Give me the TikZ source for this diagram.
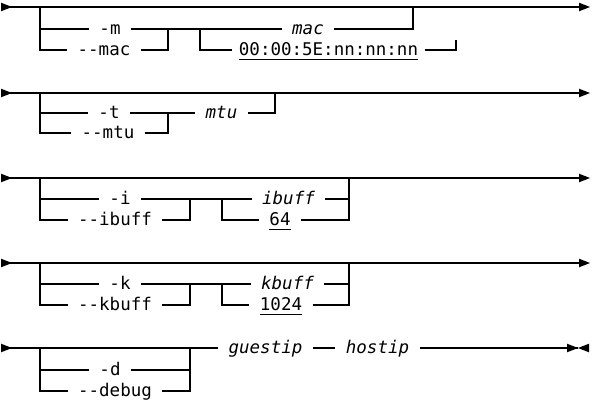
\documentclass[tikz,border=0pt]{standalone}
\usepackage{fontspec}
\setmonofont{DejaVu Sans Mono}
\newcommand\myul[1]{\setbox0\hbox{#1}\rlap{\rule[-4.5pt]{\wd0}{1pt}}\box0}
\begin{document}
\begin{tikzpicture}[x=1pt,y=-1pt,line width=1.1pt,
  lbl/.style={font=\ttfamily\fontsize{17.5}{20}\selectfont, inner xsep=10pt, inner ysep=0pt, text height=11pt, text depth=0pt},
  var/.style={lbl, font=\ttfamily\itshape\fontsize{17.5}{20}\selectfont},
  tri/.pic={\fill (0,-4.3) -- (11,0) -- (0,4.3) -- cycle;},
  ltri/.pic={\fill (11,-4.3) -- (0,0) -- (11,4.3) -- cycle;}]
\useasboundingbox (0,0) rectangle (594,404);

% ---------- section 1 ----------
\coordinate (s1) at (1,7);
\coordinate (e1) at (579,7);
\pic at (s1) {tri};
\pic at (e1) {tri};
\draw (s1) -- (e1);
\node[lbl] (m) at (110,29) {-m};
\node[lbl] (mac) at (104,50) {-{}-mac};
\node[var] (macv) at (308,29) {mac};
\node[lbl, inner xsep=6pt] (macd) at (328.5,50) {\myul{00:00:5E:nn:nn:nn}};
\coordinate (a1) at (40,7);
\draw (a1) |- (mac.west);
\draw (a1 |- m) -- (m.west);
\draw (m.east) -- (macv.west);
\coordinate (b1) at (168,29);
\draw (mac.east) -| (b1);
\coordinate (c1) at (200,29);
\draw (c1) |- (macd.west);
\coordinate (d1) at (413,7);
\draw (macv.east) -| (d1);
\coordinate (f1) at (456,40);
\draw (macd.east) -| (f1);

% ---------- section 2 ----------
\coordinate (s2) at (1,93);
\coordinate (e2) at (579,93);
\pic at (s2) {tri};
\pic at (e2) {tri};
\draw (s2) -- (e2);
\node[lbl] (t) at (109,113) {-t};
\node[lbl] (mtu) at (108,133) {-{}-mtu};
\node[var] (mtuv) at (221.5,113) {mtu};
\coordinate (a2) at (40,93);
\draw (a2) |- (mtu.west);
\draw (a2 |- t) -- (t.west);
\draw (t.east) -- (mtuv.west);
\coordinate (b2) at (168,113);
\draw (mtu.east) -| (b2);
\coordinate (d2) at (275,93);
\draw (mtuv.east) -| (d2);

% ---------- section 3 ----------
\coordinate (s3) at (1,178);
\coordinate (e3) at (579,178);
\pic at (s3) {tri};
\pic at (e3) {tri};
\draw (s3) -- (e3);
\node[lbl] (i) at (120,199) {-i};
\node[lbl] (ib) at (115,220) {-{}-ibuff};
\node[var] (ibv) at (288.5,199) {ibuff};
\node[lbl] (sf) at (280,220) {\myul{64}};
\coordinate (a3) at (40,178);
\draw (a3) |- (ib.west);
\draw (a3 |- i) -- (i.west);
\draw (i.east) -- (ibv.west);
\coordinate (b3) at (190,199);
\draw (ib.east) -| (b3);
\coordinate (c3) at (222,199);
\draw (c3) |- (sf.west);
\coordinate (d3) at (349,178);
\draw (sf.east) -| (d3);
\draw (ibv.east) -- (d3 |- ibv);

% ---------- section 4 ----------
\coordinate (s4) at (1,263);
\coordinate (e4) at (579,263);
\pic at (s4) {tri};
\pic at (e4) {tri};
\draw (s4) -- (e4);
\node[lbl] (k) at (120,284) {-k};
\node[lbl] (kb) at (115,305) {-{}-kbuff};
\node[var] (kbv) at (287.5,284) {kbuff};
\node[lbl] (kd) at (281,305) {\myul{1024}};
\coordinate (a4) at (40,263);
\draw (a4) |- (kb.west);
\draw (a4 |- k) -- (k.west);
\draw (k.east) -- (kbv.west);
\coordinate (b4) at (190,284);
\draw (kb.east) -| (b4);
\coordinate (c4) at (222,284);
\draw (c4) |- (kd.west);
\coordinate (d4) at (349,263);
\draw (kd.east) -| (d4);
\draw (kbv.east) -- (d4 |- kbv);

% ---------- section 5 ----------
\coordinate (s5) at (1,348);
\coordinate (e5) at (578,348);
\pic at (s5) {tri};
\pic at (567,348) {tri};
\pic at (e5) {ltri};
\node[var] (g) at (265.5,348) {guestip};
\node[var] (h) at (377.5,348) {hostip};
\draw (s5) -- (g.west);
\draw (g.east) -- (h.west);
\draw (h.east) -- (e5);
\node[lbl] (dd) at (110,370) {-d};
\node[lbl] (dbg) at (115,391) {-{}-debug};
\coordinate (a5) at (40,348);
\draw (a5) |- (dbg.west);
\draw (a5 |- dd) -- (dd.west);
\coordinate (d5) at (190,348);
\draw (dbg.east) -| (d5);
\draw (dd.east) -- (d5 |- dd);
\end{tikzpicture}
\end{document}
